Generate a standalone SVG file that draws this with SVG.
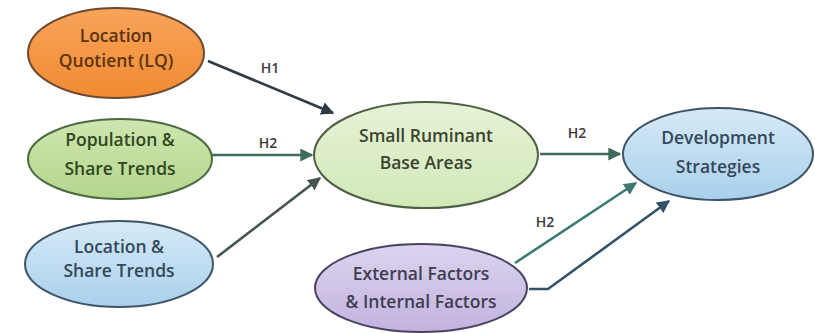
<svg xmlns="http://www.w3.org/2000/svg" width="815" height="333" viewBox="0 0 815 333">
<defs>
<linearGradient id="gOr" x1="0" y1="0" x2="0" y2="1"><stop offset="0" stop-color="#f7a45a"/><stop offset="1" stop-color="#f28a32"/></linearGradient>
<linearGradient id="gGr" x1="0" y1="0" x2="0" y2="1"><stop offset="0" stop-color="#cfe6b0"/><stop offset="1" stop-color="#b4d68c"/></linearGradient>
<linearGradient id="gGrL" x1="0" y1="0" x2="0" y2="1"><stop offset="0" stop-color="#e6f2d6"/><stop offset="1" stop-color="#d2e8b8"/></linearGradient>
<linearGradient id="gBl" x1="0" y1="0" x2="0" y2="1"><stop offset="0" stop-color="#d6eaf7"/><stop offset="1" stop-color="#a9d0ec"/></linearGradient>
<linearGradient id="gPu" x1="0" y1="0" x2="0" y2="1"><stop offset="0" stop-color="#ddd3ee"/><stop offset="1" stop-color="#c2b3df"/></linearGradient>
<marker id="aDk" viewBox="0 0 10 10" refX="9" refY="5" markerWidth="5" markerHeight="5" orient="auto" markerUnits="strokeWidth"><path d="M0,0 L10,5 L0,10 z" fill="#2f3a45"/></marker>
<marker id="aGr" viewBox="0 0 10 10" refX="9" refY="5" markerWidth="5" markerHeight="5" orient="auto" markerUnits="strokeWidth"><path d="M0,0 L10,5 L0,10 z" fill="#3f6b5c"/></marker>
<marker id="aGy" viewBox="0 0 10 10" refX="9" refY="5" markerWidth="5" markerHeight="5" orient="auto" markerUnits="strokeWidth"><path d="M0,0 L10,5 L0,10 z" fill="#44564e"/></marker>
<marker id="aTe" viewBox="0 0 10 10" refX="9" refY="5" markerWidth="5" markerHeight="5" orient="auto" markerUnits="strokeWidth"><path d="M0,0 L10,5 L0,10 z" fill="#3d7a72"/></marker>
<marker id="aBl" viewBox="0 0 10 10" refX="9" refY="5" markerWidth="5" markerHeight="5" orient="auto" markerUnits="strokeWidth"><path d="M0,0 L10,5 L0,10 z" fill="#34526a"/></marker>
</defs>
<style>
.n{stroke-width:2}
.t{font-family:"Open Sans","Liberation Sans",sans-serif;font-size:17.5px;font-weight:600;text-anchor:middle}
.lbl{font-family:"Open Sans","Liberation Sans",sans-serif;font-size:14px;font-weight:600;text-anchor:middle;fill:#3a3a3a}
.c{fill:none;stroke-width:2.6}
</style>
<rect width="815" height="333" fill="#ffffff"/>
<g id="connectors">
<line class="c" x1="208" y1="61" x2="333" y2="113" stroke="#2f3a45" marker-end="url(#aDk)"/>
<line class="c" x1="212" y1="155" x2="312" y2="155" stroke="#3f6b5c" marker-end="url(#aGr)"/>
<line class="c" x1="217" y1="257" x2="320" y2="178" stroke="#44564e" marker-end="url(#aGy)"/>
<line class="c" x1="540" y1="154" x2="620" y2="154" stroke="#3f6b5c" marker-end="url(#aGr)"/>
<line class="c" x1="515" y1="263" x2="636" y2="183" stroke="#3d7a72" marker-end="url(#aTe)"/>
<polyline class="c" points="529,289 548,289 669,201" stroke="#34526a" marker-end="url(#aBl)"/>
<text class="lbl" x="270" y="73">H1</text>
<text class="lbl" x="268" y="148">H2</text>
<text class="lbl" x="577" y="138">H2</text>
<text class="lbl" x="545" y="227">H2</text>
</g>
<g id="lq">
<ellipse class="n" cx="116" cy="53" rx="88" ry="45" fill="url(#gOr)" stroke="#6b4a30"/>
<text class="t" x="116" y="42" fill="#5a3414">Location</text>
<text class="t" x="116" y="67" fill="#5a3414">Quotient (LQ)</text>
</g>
<g id="pop">
<ellipse class="n" cx="120" cy="159" rx="92" ry="40" fill="url(#gGr)" stroke="#4d6a40"/>
<text class="t" x="120" y="146" fill="#30481f">Population &amp;</text>
<text class="t" x="120" y="175" fill="#30481f">Share Trends</text>
</g>
<g id="loc">
<ellipse class="n" cx="119" cy="264" rx="94" ry="43" fill="url(#gBl)" stroke="#3e5466"/>
<text class="t" x="119" y="253" fill="#34485a">Location &amp;</text>
<text class="t" x="119" y="277" fill="#34485a">Share Trends</text>
</g>
<g id="srb">
<ellipse class="n" cx="426" cy="155" rx="112" ry="53" fill="url(#gGrL)" stroke="#4e5f44"/>
<text class="t" x="426" y="142" fill="#3a4430">Small Ruminant</text>
<text class="t" x="426" y="169" fill="#3a4430">Base Areas</text>
</g>
<g id="dev">
<ellipse class="n" cx="718" cy="154" rx="95" ry="46" fill="url(#gBl)" stroke="#3e5466"/>
<text class="t" x="718" y="144" fill="#34485a">Development</text>
<text class="t" x="718" y="173" fill="#34485a">Strategies</text>
</g>
<g id="ext">
<ellipse class="n" cx="421" cy="288" rx="106" ry="44" fill="url(#gPu)" stroke="#4a4460"/>
<text class="t" x="421" y="280" fill="#3e3e50">External Factors</text>
<text class="t" x="421" y="308" fill="#3e3e50">&amp; Internal Factors</text>
</g>
</svg>
